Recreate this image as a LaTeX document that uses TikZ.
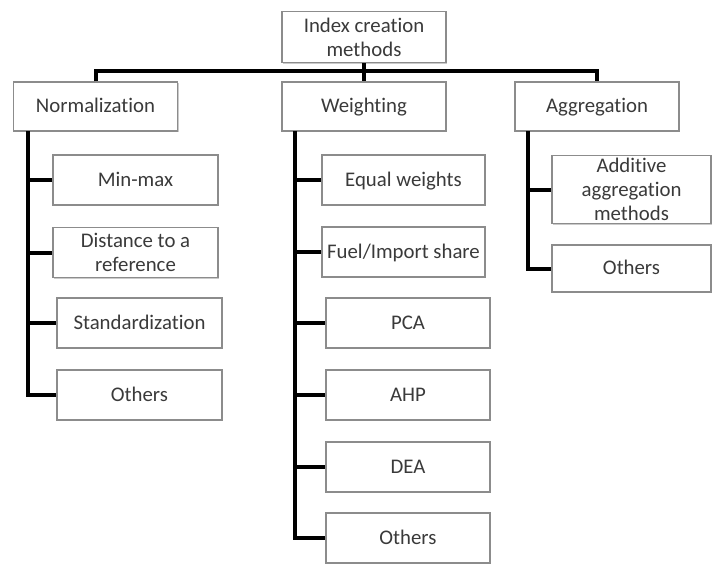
\documentclass[tikz,border=0pt]{standalone}
\usepackage{fontspec}
\setmainfont{Carlito}[Ligatures=NoCommon]
\usetikzlibrary{shadows}
\definecolor{txt}{HTML}{3A3A3A}
\definecolor{frame}{HTML}{8C8C8C}
\begin{document}
\begin{tikzpicture}[x=0.5pt,y=-0.5pt,
  box/.style={draw=frame, line width=0.6pt, fill=white, inner sep=0pt, align=center,
    text=txt, font=\fontsize{10.4}{12}\selectfont, minimum width=82pt, minimum height=25pt,
    drop shadow={shadow xshift=0.6pt, shadow yshift=-0.6pt, opacity=0.35, fill=black!60}},
  one/.style={text height=7.4pt, text depth=1pt},
  link/.style={line width=2pt, black}]
\useasboundingbox (0,0) rectangle (713,564);
% root and level one
\node[box, minimum height=25.5pt] (root) at (364,37) {Index creation\\methods};
\node[box, one, minimum height=24.5pt] (norm) at (95.5,106.5) {Normalization};
\node[box, one, minimum height=24.5pt] (weig) at (364,106.5) {Weighting};
\node[box, one, minimum height=24.5pt] (aggr) at (597,106.5) {Aggregation};
% normalization children
\node[box, one, minimum width=82.5pt] (n1) at (135.5,180) {Min-max};
\node[box, minimum width=82.5pt] (n2) at (135.5,252.5) {Distance to a\\reference};
\node[box, one, minimum width=82.5pt] (n3) at (139.5,323) {Standardization};
\node[box, one, minimum width=82.5pt] (n4) at (139.5,395) {Others};
% weighting children
\node[box, one, minimum width=81.5pt] (w1) at (403.5,180) {Equal weights};
\node[box, one, minimum width=81.5pt] (w2) at (403.5,252) {Fuel/Import share};
\node[box, one] (w3) at (408,323) {PCA};
\node[box, one] (w4) at (408,395) {AHP};
\node[box, one] (w5) at (408,467) {DEA};
\node[box, one] (w6) at (408,538) {Others};
% aggregation children
\node[box, minimum width=79.5pt, minimum height=34pt] (a1) at (631.5,189.5) {Additive\\aggregation\\methods};
\node[box, one, minimum width=79.5pt, minimum height=23.5pt] (a2) at (631.5,268.5) {Others};
% bus and spines
\coordinate (bus) at (364,71);
\coordinate (ls) at (28,131);
\coordinate (ms) at (295,131);
\coordinate (rs) at (528,131);
\draw[link] (norm.north) |- (bus) -| (aggr.north);
\draw[link] (root.south) -- (weig.north);
\draw[link] (ls) |- (n4.west);
\draw[link] (ls |- n1.west) -- (n1.west);
\draw[link] (ls |- n2.west) -- (n2.west);
\draw[link] (ls |- n3.west) -- (n3.west);
\draw[link] (ms) |- (w6.west);
\draw[link] (ms |- w1.west) -- (w1.west);
\draw[link] (ms |- w2.west) -- (w2.west);
\draw[link] (ms |- w3.west) -- (w3.west);
\draw[link] (ms |- w4.west) -- (w4.west);
\draw[link] (ms |- w5.west) -- (w5.west);
\draw[link] (rs) |- (a2.west);
\draw[link] (rs |- a1.west) -- (a1.west);
\end{tikzpicture}
\end{document}
